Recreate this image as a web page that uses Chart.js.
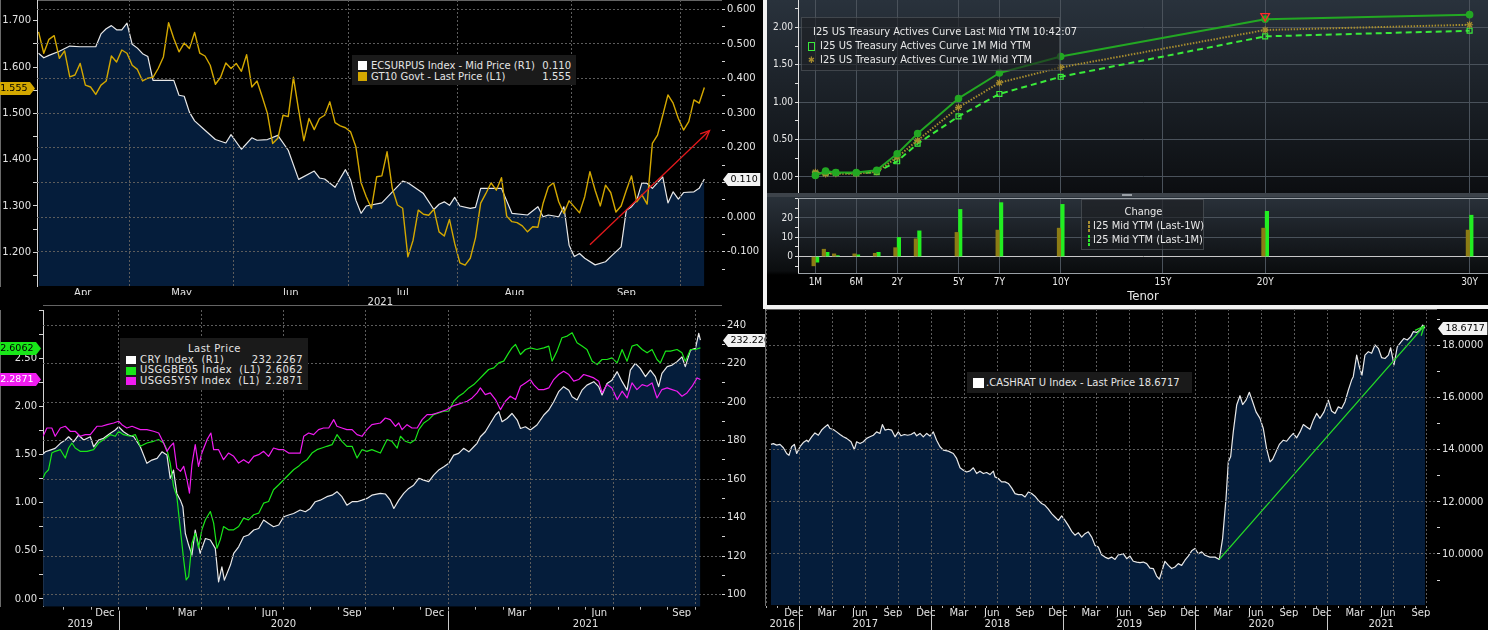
<!DOCTYPE html>
<html>
<head>
<meta charset="utf-8">
<title>Rates, inflation and cash ratio panels</title>
<script src="https://cdn.jsdelivr.net/npm/chart.js@4.4.1/dist/chart.umd.min.js"></script>
<style>
  html, body { margin: 0; padding: 0; background: #000; }
  body { position: relative; width: 1488px; height: 630px; overflow: hidden; font-family: "DejaVu Sans", sans-serif; }
  .pn { position: absolute; }
  .pn canvas { display: block; }
  .lg { position: absolute; box-sizing: border-box; background: #1a1a1a; color: #e4e4e4; font-size: 10px; }
  .row { display: flex; align-items: center; height: 11px; line-height: 11px; white-space: pre; }
  .sq { display: inline-block; width: 9px; height: 9px; margin-right: 4px; flex: none; }
  .val { margin-left: auto; }
  .nar { font-family: "Liberation Sans Narrow", "DejaVu Sans Condensed", Roboto, sans-serif; font-stretch: condensed; }
  .lg2 { background: rgba(28,30,33,0.6); border: 1px solid rgba(95,100,105,0.55); color: #e8e8e8; font-size: 11px; }
  .lg2 .row { height: 14px; line-height: 14px; }
  .lg3 { font-size: 10px; letter-spacing: 0.45px; }
  .lg3 .row { height: 10.7px; line-height: 10.7px; }
</style>
</head>
<body>

<div class="pn" style="left:0;top:305px;width:765px;height:325px"><canvas id="c3" width="765" height="325"></canvas></div>
<div class="pn" style="left:0;top:0;width:765px;height:310px"><canvas id="c1" width="765" height="310"></canvas></div>

<div class="pn" style="left:763px;top:0;width:725px;height:309px;background:#f2f2f2"></div>
<div class="pn" style="left:767px;top:0;width:721px;height:193px;background:linear-gradient(#29323c,#0c0e11)"><canvas id="c2a" width="721" height="193"></canvas></div>
<div class="pn" style="left:767px;top:193px;width:721px;height:112px;background:linear-gradient(#2b333c 0px,#0b0d0f 78px,#000 82px)"><canvas id="c2b" width="721" height="112"></canvas></div>
<div class="pn" style="left:767px;top:193px;width:721px;height:4px;background:#3d434a"></div>
<div class="pn" style="left:1122px;top:194px;width:10px;height:2px;background:#9aa0a6"></div>

<div class="pn" style="left:765px;top:309px;width:723px;height:321px"><canvas id="c4" width="723" height="321"></canvas></div>

<div class="lg" style="left:352px;top:55px;width:224px;height:30px;padding:5px 5px 0 6px">
  <div class="row"><span class="sq" style="background:#fff"></span>ECSURPUS Index - Mid Price (R1)<span class="val">0.110</span></div>
  <div class="row"><span class="sq" style="background:#d4a800"></span>GT10 Govt - Last Price (L1)<span class="val">1.555</span></div>
</div>

<div class="lg lg2 nar" style="left:801px;top:17px;width:259px;height:54px;padding:7px 4px 0 6px">
  <div class="row"><span style="display:inline-block;width:7px;height:7px;border-radius:50%;background:#23a823;margin-right:5px"></span>I25 US Treasury Actives Curve Last Mid YTM 10:42:07</div>
  <div class="row"><span style="display:inline-block;width:5px;height:7px;border:1px solid #3aea3a;margin-right:5px"></span>I25 US Treasury Actives Curve 1M Mid YTM</div>
  <div class="row"><span style="display:inline-block;width:7px;margin-right:5px;color:#a68c2e;font-size:9px">✱</span>I25 US Treasury Actives Curve 1W Mid YTM</div>
</div>

<div class="lg lg2 nar" style="left:1081px;top:199px;width:123px;height:51px;padding:5px 4px 0 6px">
  <div class="row" style="justify-content:center">Change</div>
  <div class="row"><span style="display:inline-block;width:6px;height:9px;border:1px dashed #a68c2e;margin-right:3px"></span>I25 Mid YTM (Last-1W)</div>
  <div class="row"><span style="display:inline-block;width:6px;height:9px;border:1px dashed #2ee82e;margin-right:3px"></span>I25 Mid YTM (Last-1M)</div>
</div>

<div class="lg lg3" style="left:120px;top:338px;width:188px;height:52px;padding:6px 5px 0 6px">
  <div class="row" style="justify-content:center">Last Price</div>
  <div class="row"><span class="sq" style="background:#fff;width:10px;height:8px"></span>CRY Index  (R1)<span class="val">232.2267</span></div>
  <div class="row"><span class="sq" style="background:#19e619;width:10px;height:8px"></span>USGGBE05 Index  (L1)<span class="val">2.6062</span></div>
  <div class="row"><span class="sq" style="background:#f01cf0;width:10px;height:8px"></span>USGG5Y5Y Index  (L1)<span class="val">2.2871</span></div>
</div>

<div class="lg" style="left:967px;top:372px;width:225px;height:21px;padding:0 0 0 6px;display:flex;align-items:center;white-space:pre">
  <span class="sq" style="background:#fff;width:11px;height:10px;margin-right:2px"></span>.CASHRAT U Index - Last Price 18.6717
</div>

<script>
// ---------- panel 1: ECSURPUS (R1) vs GT10 (L1), x = trading day index ----------
const gt10 = [
  1.676,1.630,1.660,1.668,1.619,1.635,1.579,1.583,1.608,1.561,
  1.557,1.541,1.561,1.570,1.624,1.611,1.637,1.630,1.604,1.595,
  1.570,1.576,1.578,1.597,1.622,1.696,1.662,1.633,1.652,1.640,
  1.675,1.630,1.624,1.604,1.563,1.578,1.609,1.597,1.608,1.591,
  1.627,1.557,1.570,1.536,1.500,1.435,1.446,1.496,1.493,1.578,
  1.507,1.441,1.489,1.465,1.489,1.496,1.525,1.480,1.473,1.469,
  1.460,1.428,1.350,1.320,1.295,1.363,1.365,1.417,1.338,1.302,
  1.295,1.190,1.226,1.291,1.282,1.280,1.293,1.244,1.235,1.271,
  1.219,1.177,1.172,1.187,1.231,1.306,1.327,1.350,1.334,1.361,
  1.278,1.266,1.264,1.257,1.244,1.255,1.254,1.306,1.341,1.350,
  1.309,1.284,1.311,1.298,1.285,1.320,1.374,1.334,1.300,1.345,
  1.329,1.287,1.300,1.334,1.365,1.309,1.324,1.304,1.435,1.453,
  1.496,1.540,1.522,1.489,1.464,1.482,1.529,1.522,1.556];
const ecsDay = [0,1,2,4,6,8,11,12,13,14,15,16,17,18,19,20,21,22,26,27,28,29,30,32,34,36,37,39,41,42,
  44,46,48,50,53,54,55,57,59,60,61,62,63,66,70,71,74,76,77,78,79,80,81,83,84,85,89,91,94,96,
  97,98,100,101,102,103,104,105,107,109,110,112,113,114,115,116,117,118,120,121,122,123,124,126,127,128];
const ecsVal = [0.473,0.460,0.467,0.479,0.494,0.492,0.492,0.529,0.544,0.553,0.541,0.541,0.560,0.499,0.488,
  0.472,0.464,0.395,0.395,0.352,0.349,0.303,0.278,0.251,0.224,0.214,0.238,0.196,0.229,0.222,
  0.224,0.236,0.193,0.109,0.133,0.113,0.110,0.086,0.137,0.107,0.049,0.011,0.032,0.041,
  0.104,0.099,0.068,0.022,0.037,0.044,0.034,0.057,0.032,0.025,0.028,0.083,0.083,0.011,0.006,0.030,
  0.001,0.006,0.001,0.030,-0.081,-0.114,-0.105,-0.119,-0.138,-0.129,-0.114,-0.086,0.020,0.030,
  0.049,0.099,0.097,0.083,0.116,0.041,0.073,0.052,0.071,0.073,0.083,0.110];
const redArrowDay = [106, 129];
const redArrowVal = [-0.08, 0.25];
const p1MonthStart = [17.5, 37.5, 59.5, 80.5, 102.5, 123.5];
const p1MonthMid = [8.5, 27.5, 48.5, 70, 91.5, 113];
const p1MonthLbl = ['Apr', 'May', 'Jun', 'Jul', 'Aug', 'Sep'];
const gtTicks = [1.15,1.2,1.25,1.3,1.35,1.4,1.45,1.5,1.55,1.6,1.65,1.7];
const ecsTicks = [-0.15,-0.1,-0.05,0,0.05,0.1,0.15,0.2,0.25,0.3,0.35,0.4,0.45,0.5,0.55,0.6];

// ---------- panel 2: I25 treasury curve and changes ----------
const tenorNames = ['1M','2M','3M','6M','1Y','2Y','3Y','5Y','7Y','10Y','20Y','30Y'];
const tenorPos = [-2,-1.5,-1,0,1,2,3,5,7,10,20,30];
const curveLast = [0.02,0.08,0.06,0.06,0.09,0.31,0.58,1.05,1.39,1.61,2.11,2.17];
const curve1W = [0.065,0.04,0.045,0.045,0.07,0.265,0.49,0.93,1.26,1.465,1.965,2.035];
const curve1M = [0.045,0.055,0.055,0.05,0.065,0.21,0.445,0.81,1.11,1.34,1.88,1.955];
const chg1W = [-4.8,3.8,1.4,1.4,1.7,4.6,9.2,12.5,13.7,14.7,14.7,13.7];
const chg1M = [-2.9,2.2,0.5,0.9,2.2,9.9,13.3,24.4,27.9,27.0,23.4,21.4];
const tenorTicks = [-2,0,2,5,7,10,15,20,30];
const tenorTickLbl = ['1M','6M','2Y','5Y','7Y','10Y','15Y','20Y','30Y'];
const curveTicks = [0,0.25,0.5,0.75,1,1.25,1.5,1.75,2,2.25];
const chgTicks = [-5,0,5,10,15,20,25,30];

// ---------- panel 3: CRY (R1), USGGBE05 / USGG5Y5Y (L1); x = months from Oct 2019 ----------
const cryM = [0.25,0.33,0.51,0.69,0.88,1.06,1.18,1.36,1.54,1.73,
  1.97,2.09,2.27,2.45,2.70,2.88,3.00,3.18,3.36,3.55,
  3.79,4.03,4.21,4.40,4.58,4.76,4.88,5.00,5.12,5.25,
  5.34,5.43,5.55,5.67,5.79,5.97,6.16,6.34,6.52,6.64,
  6.76,6.85,7.07,7.19,7.37,7.55,7.73,7.92,8.10,8.28,
  8.46,8.64,8.83,9.01,9.19,9.37,9.61,9.80,9.98,10.16,
  10.34,10.58,10.77,10.95,11.13,11.31,11.50,11.68,11.86,12.04,
  12.22,12.53,12.71,12.89,13.02,13.20,13.38,13.56,13.74,13.93,
  14.11,14.29,14.47,14.65,14.84,15.02,15.20,15.38,15.56,15.75,
  15.93,16.05,16.17,16.35,16.53,16.72,16.84,16.96,17.14,17.32,
  17.51,17.63,17.81,17.99,18.23,18.48,18.66,18.84,19.02,19.20,
  19.39,19.51,19.69,19.87,20.05,20.30,20.48,20.60,20.78,20.96,
  21.15,21.33,21.51,21.63,21.81,21.99,22.18,22.36,22.54,22.66,
  22.78,22.97,23.15,23.33,23.51,23.63,23.82,24.00,24.12,24.18];
const cryV = [173.0,174.2,175.1,176.0,178.6,180.3,182.0,179.4,182.9,180.3,
  182.0,176.8,180.3,181.2,183.8,185.5,187.2,184.6,182.9,182.0,
  176.8,168.2,169.9,170.8,174.2,172.5,160.4,164.7,152.6,149.1,
  145.7,131.8,125.8,120.6,133.6,121.5,129.2,128.4,124.1,106.7,
  114.5,107.6,115.4,121.5,124.9,130.1,131.0,133.6,134.4,138.8,
  137.0,135.3,136.2,140.5,141.4,142.2,144.0,143.1,144.8,148.3,
  149.1,150.9,151.7,153.5,150.9,146.5,148.3,148.3,149.1,150.0,
  151.7,152.6,152.3,149.1,144.8,149.1,152.6,155.2,156.9,160.4,
  159.5,158.7,162.1,164.7,166.4,168.2,172.5,173.4,176.0,174.2,
  176.8,178.6,182.0,184.6,188.9,193.3,195.0,189.8,191.5,194.1,
  190.7,186.3,187.2,185.5,188.1,193.3,195.9,200.2,205.4,208.0,
  206.2,202.8,201.1,206.2,208.8,210.6,208.0,203.7,209.7,211.4,
  215.8,210.6,206.2,216.6,220.1,217.5,213.2,216.6,213.2,208.0,
  214.9,218.4,219.2,221.0,223.5,218.4,227.0,227.9,235.7,232.2];
const beM = [0.25,0.33,0.45,0.57,0.69,0.88,1.06,1.18,1.30,1.42,
  1.60,1.85,2.09,2.27,2.45,2.70,2.88,3.00,3.18,3.42,
  3.61,3.79,4.03,4.27,4.46,4.64,4.76,4.88,5.00,5.12,
  5.25,5.37,5.46,5.55,5.67,5.79,5.91,6.03,6.16,6.34,
  6.46,6.58,6.70,6.82,7.00,7.19,7.37,7.55,7.73,7.92,
  8.10,8.28,8.46,8.64,8.83,9.01,9.19,9.37,9.55,9.67,
  9.86,10.04,10.22,10.40,10.58,10.77,10.95,11.13,11.31,11.50,
  11.68,11.86,12.04,12.22,12.53,12.77,12.95,13.14,13.26,13.44,
  13.62,13.80,13.93,14.11,14.29,14.47,14.65,14.84,15.02,15.20,
  15.38,15.56,15.75,15.93,16.11,16.29,16.47,16.66,16.84,17.02,
  17.20,17.32,17.45,17.63,17.81,17.99,18.23,18.48,18.66,18.78,
  18.96,19.14,19.33,19.51,19.69,19.87,20.05,20.24,20.42,20.60,
  20.78,20.96,21.15,21.33,21.51,21.69,21.87,22.06,22.24,22.42,
  22.60,22.72,22.91,23.09,23.33,23.51,23.63,23.82,24.00,24.18];
const beV = [1.255,1.307,1.342,1.515,1.533,1.550,1.463,1.567,1.619,1.567,
  1.533,1.533,1.550,1.619,1.654,1.706,1.689,1.741,1.706,1.689,
  1.706,1.585,1.619,1.637,1.654,1.619,1.550,1.411,1.169,1.065,
  0.718,0.406,0.198,0.232,0.579,0.683,0.527,0.718,0.822,0.908,
  0.787,0.527,0.614,0.752,0.718,0.718,0.752,0.839,0.822,0.874,
  0.891,0.995,1.012,1.134,1.186,1.238,1.290,1.342,1.377,1.411,
  1.446,1.515,1.550,1.567,1.585,1.602,1.706,1.637,1.585,1.585,
  1.463,1.550,1.533,1.550,1.515,1.654,1.637,1.567,1.689,1.637,
  1.619,1.654,1.758,1.827,1.862,1.914,1.931,1.949,1.949,2.053,
  2.105,2.139,2.191,2.226,2.278,2.330,2.382,2.399,2.451,2.469,
  2.555,2.607,2.642,2.538,2.590,2.607,2.590,2.607,2.625,2.469,
  2.573,2.712,2.729,2.764,2.659,2.625,2.590,2.469,2.434,2.486,
  2.486,2.503,2.451,2.590,2.469,2.625,2.642,2.590,2.555,2.590,
  2.486,2.451,2.573,2.573,2.590,2.555,2.469,2.590,2.590,2.607];
const fyM = [0.25,0.39,0.57,0.69,0.88,1.06,1.24,1.42,1.60,1.79,
  1.97,2.21,2.39,2.58,2.82,3.00,3.12,3.30,3.49,3.79,
  4.03,4.27,4.46,4.64,4.76,4.88,5.00,5.12,5.25,5.37,
  5.49,5.58,5.67,5.79,5.91,6.03,6.22,6.36,6.46,6.64,
  6.82,7.00,7.19,7.37,7.55,7.73,7.92,8.10,8.28,8.46,
  8.64,8.83,9.01,9.19,9.37,9.61,9.74,9.92,10.10,10.28,
  10.46,10.65,10.83,10.95,11.13,11.31,11.50,11.68,11.86,12.04,
  12.22,12.53,12.71,12.89,13.08,13.20,13.32,13.50,13.68,13.87,
  14.05,14.23,14.41,14.59,14.78,14.96,15.14,15.32,15.50,15.69,
  15.87,16.05,16.17,16.35,16.53,16.72,16.90,17.08,17.26,17.45,
  17.63,17.81,17.99,18.11,18.29,18.48,18.66,18.84,19.02,19.20,
  19.39,19.57,19.75,19.93,20.12,20.30,20.48,20.60,20.78,20.96,
  21.15,21.33,21.51,21.69,21.87,22.06,22.24,22.42,22.60,22.78,
  22.97,23.15,23.33,23.51,23.69,23.88,24.06,24.18];
const fyV = [1.689,1.775,1.775,1.689,1.775,1.793,1.741,1.741,1.689,1.706,
  1.706,1.793,1.793,1.810,1.827,1.845,1.810,1.775,1.793,1.758,
  1.758,1.741,1.723,1.619,1.533,1.585,1.619,1.359,1.325,1.377,
  1.238,1.099,1.394,1.602,1.377,1.515,1.654,1.723,1.550,1.550,
  1.446,1.515,1.481,1.411,1.446,1.411,1.481,1.498,1.533,1.481,
  1.567,1.550,1.550,1.515,1.515,1.515,1.689,1.723,1.706,1.758,
  1.775,1.775,1.862,1.793,1.775,1.758,1.758,1.706,1.689,1.758,
  1.810,1.827,1.879,1.862,1.793,1.827,1.758,1.810,1.775,1.775,
  1.862,1.914,1.914,1.931,1.949,1.966,2.001,2.018,2.035,2.053,
  2.087,2.139,2.191,2.122,2.139,2.070,1.966,2.053,2.105,2.070,
  2.209,2.243,2.278,2.226,2.174,2.174,2.191,2.278,2.330,2.365,
  2.330,2.261,2.278,2.330,2.313,2.295,2.261,2.139,2.226,2.191,
  2.070,2.157,2.087,2.243,2.174,2.226,2.209,2.243,2.087,2.174,
  2.191,2.174,2.157,2.105,2.139,2.209,2.295,2.278];
const p3MonthMid = [2.5,5.5,8.5,11.5,14.5,17.5,20.5,23.5];
const p3MonthLbl = ['Dec','Mar','Jun','Sep','Dec','Mar','Jun','Sep'];
const p3YearMid = [1.6, 9, 20];
const p3YearLbl = ['2019','2020','2021'];
const p3YearStart = [3, 15];
const p3LTicks = [0,0.25,0.5,0.75,1,1.25,1.5,1.75,2,2.25,2.5,2.75,3];
const p3RTicks = [100,110,120,130,140,150,160,170,180,190,200,210,220,230,240];

// ---------- panel 4: .CASHRAT U Index; x = months from Jan 2017 ----------
const cashM = [-2.58,-2.36,-2.06,-1.76,-1.45,-1.15,-0.94,-0.70,-0.45,-0.24,
  0.06,0.36,0.67,0.82,1.12,1.42,1.73,2.03,2.33,2.58,
  2.79,3.09,3.39,3.70,4.00,4.30,4.70,5.00,5.21,5.52,
  5.82,6.12,6.42,6.73,7.03,7.33,7.55,7.79,8.09,8.39,
  8.70,9.00,9.24,9.55,9.85,10.15,10.45,10.67,10.97,11.27,
  11.58,11.88,12.18,12.48,12.79,13.09,13.55,14.00,14.30,14.61,
  14.91,15.21,15.52,15.82,16.12,16.42,16.73,17.03,17.33,17.64,
  17.79,18.09,18.39,18.70,19.00,19.30,19.61,19.91,20.21,20.52,
  20.82,21.12,21.42,21.73,22.03,22.33,22.64,22.94,23.24,23.55,
  23.85,24.15,24.45,24.76,25.06,25.36,25.67,25.97,26.27,26.58,
  26.88,27.18,27.48,27.79,28.09,28.39,28.70,29.00,
  29.15,29.45,29.76,30.06,30.36,30.67,30.97,31.27,31.58,31.88,
  32.18,32.48,32.73,32.94,33.24,33.55,33.85,34.15,34.45,34.76,
  35.06,35.36,35.67,35.97,36.27,36.58,36.88,37.33,37.79,38.18,
  38.48,38.79,39.00,39.21,39.45,39.76,40.06,40.30,40.61,40.91,
  41.21,41.52,41.88,42.18,42.48,42.79,43.03,43.33,43.64,44.00,
  44.30,44.61,44.91,45.21,45.52,45.82,46.12,46.42,46.73,47.03,
  47.33,47.70,48.09,48.39,48.70,49.00,49.30,49.61,49.91,50.21,
  50.36,50.67,50.91,51.15,51.42,51.73,52.03,52.33,52.64,52.94,
  53.24,53.55,53.76,54.06,54.36,54.67,54.97,55.27,55.58,55.82,
  56.12,56.42,56.67,56.88];
const cashV = [14.21,14.24,14.18,14.21,14.08,13.86,13.79,14.12,14.21,13.86,
  14.12,14.28,14.37,14.31,14.50,14.65,14.56,14.76,14.88,14.97,
  14.82,14.78,14.69,14.59,14.50,14.44,14.31,14.01,14.31,14.24,
  14.31,14.44,14.50,14.56,14.69,14.63,14.97,14.76,14.79,14.76,
  14.50,14.69,14.54,14.59,14.56,14.59,14.67,14.54,14.63,14.50,
  14.63,14.53,14.69,14.37,14.12,13.99,13.95,13.86,13.67,13.31,
  13.22,13.15,13.19,13.31,13.09,13.18,13.09,13.13,13.05,13.18,
  12.96,12.90,12.77,12.77,12.71,12.54,12.32,12.28,12.28,12.19,
  12.38,12.32,12.22,12.06,11.94,11.87,11.72,11.55,11.42,11.29,
  11.46,11.29,11.10,10.87,10.72,10.82,10.65,10.78,10.85,10.65,
  10.33,10.27,9.97,9.88,9.82,9.88,9.79,9.97,
  9.97,10.01,9.82,9.92,9.72,9.69,9.67,9.69,9.63,9.46,
  9.44,9.15,9.03,9.31,9.72,9.56,9.44,9.50,9.63,9.56,
  9.76,9.92,10.12,10.21,10.01,10.08,9.95,9.88,9.88,9.79,
  10.59,12.13,13.54,13.73,14.69,15.72,16.08,15.74,15.91,16.21,
  15.85,15.46,15.21,14.82,14.05,13.54,13.64,13.92,14.21,14.37,
  14.33,14.50,14.63,14.46,14.69,14.97,14.88,14.79,15.14,15.40,
  15.21,15.46,15.91,15.49,15.40,15.65,15.59,15.85,16.29,16.68,
  16.81,17.64,17.19,16.87,17.64,17.77,17.71,18.03,17.90,17.54,
  17.51,17.64,17.92,17.26,17.96,18.13,18.28,18.22,18.35,18.54,
  18.51,18.60,18.79,18.67];
const greenArrowM = [38.18, 56.8];
const greenArrowV = [9.79, 18.75];
const p4MonthMid = [-0.5,2.5,5.5,8.5,11.5,14.5,17.5,20.5,23.5,26.5,29.5,32.5,35.5,38.5,41.5,44.5,47.5,50.5,53.5,56.5];
const p4MonthLbl = ['Dec','Mar','Jun','Sep','Dec','Mar','Jun','Sep','Dec','Mar','Jun','Sep','Dec','Mar','Jun','Sep','Dec','Mar','Jun','Sep'];
const p4YearMid = [-1.56, 6, 18, 30, 42, 52.9];
const p4YearLbl = ['2016','2017','2018','2019','2020','2021'];
const p4YearStart = [0, 12, 24, 36, 48];
const p4Ticks = [9,10,11,12,13,14,15,16,17,18,19];

// ---------- helpers ----------
const FONT = '"DejaVu Sans", sans-serif';
const NARROW = '"Liberation Sans Narrow", "DejaVu Sans Condensed", Roboto, sans-serif';
const TXT = '#e2e2e2', GRID = '#5c5c5c', AXIS = '#d4d4d4', NAVY = '#051d3b', P2GRID = '#4a525b';

const pts = (xs, ys) => xs.map((x, i) => ({ x, y: ys[i] }));
const on = (v, s) => Math.abs(v / s - Math.round(v / s)) < 1e-6;
const range = (a, b, s) => { const r = []; for (let v = a; v <= b + 1e-9; v += s) r.push(v); return r; };
const fixed = list => ax => { ax.ticks = list.map(v => ({ value: v })); };
const fitTo = (w, h) => s => {
  if (w !== null) s.width = w;
  if (h !== null) s.height = h;
  s.paddingLeft = 0; s.paddingRight = 0; s.paddingTop = 0; s.paddingBottom = 0;
};

function gridX(min, max, at, major, tickLen) {
  return {
    type: 'linear', position: 'bottom', weight: 0, min, max, z: 1,
    afterBuildTicks: fixed(at), afterFit: fitTo(null, 0),
    grid: { z: 1, color: c => (c.tick && major(c.tick.value)) ? GRID : 'transparent',
            drawTicks: tickLen > 0, tickLength: tickLen, tickColor: '#b8b8b8' },
    border: { display: true, color: '#c8c8c8', dash: [2, 2] },
    ticks: { display: false }
  };
}
function labelRow(min, max, at, text, h, pad, weight, font) {
  return {
    type: 'linear', position: 'bottom', weight, min, max,
    afterBuildTicks: fixed(at), afterFit: fitTo(null, h),
    grid: { display: false, drawTicks: false }, border: { display: false },
    ticks: { autoSkip: false, maxRotation: 0, minRotation: 0, padding: pad, color: TXT,
             font: font || { family: FONT, size: 10 }, callback: (v, i) => text[i] }
  };
}
function yAxis(pos, min, max, at, w, major, fmt, onArea, lastLbl) {
  return {
    type: 'linear', position: pos, min, max, z: onArea ? 1 : 0,
    afterBuildTicks: fixed(at), afterFit: fitTo(w, null),
    grid: { z: onArea ? 1 : -1, drawOnChartArea: onArea,
            color: c => (c.tick && on(c.tick.value, major)) ? GRID : 'transparent',
            tickLength: 4, tickColor: AXIS },
    border: { color: AXIS, dash: [2, 2] },
    ticks: { autoSkip: false, padding: 2, color: TXT, font: { family: FONT, size: 10 },
             callback: v => (on(v, major) && (lastLbl === undefined || v <= lastLbl)) ? fmt(v) : '' }
  };
}
function options(padTop, scales) {
  return {
    responsive: false, animation: false, events: [],
    layout: { padding: { top: padTop, left: 0, right: 0, bottom: 0 }, autoPadding: false },
    elements: { point: { radius: 0 }, line: { tension: 0, borderJoinStyle: 'round' } },
    plugins: { legend: { display: false }, tooltip: { enabled: false } },
    scales
  };
}

// value tags drawn against an axis
function tags(items) {
  return {
    id: 'tags',
    afterDraw(chart) {
      const ctx = chart.ctx;
      items.forEach(t => {
        const sc = chart.scales[t.axis];
        const y = Math.round(sc.getPixelForValue(t.value)) + 0.5;
        ctx.save();
        ctx.font = '9.5px ' + FONT;
        const w = ctx.measureText(t.text).width + 5, h = 13, tip = 5;
        const left = sc.position === 'left';
        const x0 = left ? sc.right - 2 : sc.left + 2;
        const d = left ? -1 : 1;
        ctx.beginPath();
        ctx.moveTo(x0, y);
        ctx.lineTo(x0 + d * tip, y - h / 2);
        ctx.lineTo(x0 + d * (tip + w), y - h / 2);
        ctx.lineTo(x0 + d * (tip + w), y + h / 2);
        ctx.lineTo(x0 + d * tip, y + h / 2);
        ctx.closePath();
        ctx.fillStyle = t.bg;
        ctx.fill();
        ctx.fillStyle = t.fg;
        ctx.textBaseline = 'middle';
        ctx.textAlign = 'center';
        ctx.fillText(t.text, x0 + d * (tip + w / 2), y + 0.5);
        ctx.restore();
      });
    }
  };
}
// open arrow head at the last point of datasets flagged arrowHead
const arrowHeads = {
  id: 'arrowHeads',
  afterDatasetsDraw(chart) {
    const ctx = chart.ctx;
    chart.data.datasets.forEach((ds, i) => {
      if (!ds.arrowHead) return;
      const el = chart.getDatasetMeta(i).data;
      const a = el[el.length - 2], b = el[el.length - 1];
      const ang = Math.atan2(b.y - a.y, b.x - a.x), L = 10;
      ctx.save();
      ctx.strokeStyle = ds.borderColor;
      ctx.lineWidth = ds.borderWidth;
      ctx.beginPath();
      ctx.moveTo(b.x - L * Math.cos(ang - 0.42), b.y - L * Math.sin(ang - 0.42));
      ctx.lineTo(b.x, b.y);
      ctx.lineTo(b.x - L * Math.cos(ang + 0.42), b.y - L * Math.sin(ang + 0.42));
      ctx.stroke();
      ctx.restore();
    });
  }
};
function yearSeps(values, from) {
  return {
    id: 'yearSeps',
    afterDraw(chart) {
      const ctx = chart.ctx, sc = chart.scales.x;
      ctx.save();
      ctx.strokeStyle = '#c8c8c8';
      ctx.lineWidth = 1;
      values.forEach(v => {
        const x = Math.round(sc.getPixelForValue(v)) + 0.5;
        ctx.beginPath();
        ctx.moveTo(x, chart.chartArea.bottom + from);
        ctx.lineTo(x, chart.height);
        ctx.stroke();
      });
      ctx.restore();
    }
  };
}
function frame(color) {
  return {
    id: 'frame',
    afterDraw(chart) {
      const { left, top, right, bottom } = chart.chartArea, ctx = chart.ctx;
      ctx.save();
      ctx.strokeStyle = color;
      ctx.lineWidth = 1;
      ctx.beginPath();
      ctx.moveTo(left, Math.round(top) + 0.5); ctx.lineTo(right, Math.round(top) + 0.5);
      ctx.moveTo(left, Math.round(bottom) + 0.5); ctx.lineTo(right, Math.round(bottom) + 0.5);
      ctx.stroke();
      ctx.restore();
    }
  };
}

// ---------- panel 1 ----------
new Chart(document.getElementById('c1'), {
  type: 'line',
  data: { datasets: [
    { data: pts(redArrowDay, redArrowVal), yAxisID: 'yR', borderColor: '#e3191c', borderWidth: 1.3, arrowHead: true, order: 0 },
    { data: gt10.map((v, i) => ({ x: i, y: v })), yAxisID: 'yL', borderColor: '#d4a800', borderWidth: 1.4, order: 1 },
    { data: pts(ecsDay, ecsVal), yAxisID: 'yR', borderColor: '#e8e8e8', borderWidth: 1.2, fill: 'start', backgroundColor: NAVY, order: 2 }
  ] },
  options: options(0, {
    x: gridX(-0.3, 131.2, p1MonthStart, () => true, 0),
    xm: labelRow(-0.3, 131.2, p1MonthMid, p1MonthLbl, 9, 1, 1),
    xy: labelRow(-0.3, 131.2, [65.7], ['2021'], 15, 1, 2),
    yL: yAxis('left', 1.127, 1.745, gtTicks, 37, 0.1, v => v.toFixed(3), false),
    yR: yAxis('right', -0.199, 0.627, ecsTicks, 44, 0.1, v => v.toFixed(3), true)
  }),
  plugins: [arrowHeads, tags([
    { axis: 'yL', value: 1.555, text: '1.555', bg: '#d4a800', fg: '#000' },
    { axis: 'yR', value: 0.110, text: '0.110', bg: '#f2f2f2', fg: '#000' }
  ])]
});

// ---------- panel 2: curve ----------
new Chart(document.getElementById('c2a'), {
  type: 'line',
  data: { datasets: [
    { data: pts([20], [2.15]), showLine: false, pointStyle: 'triangle', rotation: 180, pointRadius: 5,
      pointBorderColor: '#ff2a2a', pointBackgroundColor: 'rgba(0,0,0,0)', pointBorderWidth: 1.3, order: 0 },
    { data: pts(tenorPos, curveLast), borderColor: '#23a823', borderWidth: 2, pointStyle: 'circle', pointRadius: 2.8,
      pointBackgroundColor: '#23a823', pointBorderColor: '#23a823', order: 1 },
    { data: pts(tenorPos, curve1W), borderColor: '#a68c2e', borderWidth: 2, borderDash: [1.5, 1.5], pointStyle: 'star',
      pointRadius: 3.5, pointBorderColor: '#a68c2e', pointBorderWidth: 1.2, order: 2 },
    { data: pts(tenorPos, curve1M), borderColor: '#3aea3a', borderWidth: 2, borderDash: [6, 4], pointStyle: 'rect',
      pointRadius: 3.5, pointBackgroundColor: 'rgba(0,0,0,0)', pointBorderColor: '#3aea3a', pointBorderWidth: 1.2, order: 3 }
  ] },
  options: options(0, {
    x: { type: 'linear', min: -2.85, max: 30.9, afterBuildTicks: fixed(tenorTicks), afterFit: fitTo(null, 0),
         grid: { color: P2GRID, drawTicks: false }, border: { display: false }, ticks: { display: false } },
    y: { type: 'linear', position: 'left', min: -0.214, max: 2.366, afterBuildTicks: fixed(curveTicks), afterFit: fitTo(31, null),
         grid: { color: c => (c.tick && on(c.tick.value, 0.5)) ? P2GRID : 'transparent', tickLength: 3, tickColor: '#e0e0e0' },
         border: { color: '#e0e0e0' },
         ticks: { autoSkip: false, padding: 2, color: '#e8e8e8', font: { family: NARROW, size: 10 },
                  callback: v => on(v, 0.5) ? v.toFixed(2) : '' } }
  })
});

// ---------- panel 2: change bars ----------
new Chart(document.getElementById('c2b'), {
  type: 'bar',
  data: { datasets: [
    { data: pts(tenorPos, chg1W), backgroundColor: '#8c7c14', barThickness: 3.5 },
    { data: pts(tenorPos, chg1M), backgroundColor: '#22ee22', barThickness: 3.5 }
  ] },
  options: options(5, {
    x: { type: 'linear', min: -2.85, max: 30.9, offset: false, afterBuildTicks: fixed(tenorTicks), afterFit: fitTo(null, 32),
         grid: { color: P2GRID, offset: false, drawTicks: false }, border: { display: false },
         ticks: { autoSkip: false, maxRotation: 0, padding: 3, color: '#e8e8e8', font: { family: NARROW, size: 10 },
                  callback: (v, i) => tenorTickLbl[i] },
         title: { display: true, text: 'Tenor', color: '#e8e8e8', font: { family: NARROW, size: 13 }, padding: { top: 0, bottom: 1 } } },
    y: { type: 'linear', position: 'left', min: -8.5, max: 30.3, afterBuildTicks: fixed(chgTicks), afterFit: fitTo(31, null),
         grid: { color: c => !c.tick ? 'transparent' : (c.tick.value === 0 ? '#c8c8c8' : ((c.tick.value === 10 || c.tick.value === 20) ? P2GRID : 'transparent')),
                 tickLength: 3, tickColor: '#e0e0e0' },
         border: { color: '#e0e0e0' },
         ticks: { autoSkip: false, padding: 2, color: '#e8e8e8', font: { family: NARROW, size: 10 },
                  callback: v => (v === 0 || v === 10 || v === 20) ? String(v) : '' } }
  }),
  plugins: [frame('#9aa0a6')]
});

// ---------- panel 3 ----------
new Chart(document.getElementById('c3'), {
  type: 'line',
  data: { datasets: [
    { data: pts(fyM, fyV), yAxisID: 'yL', borderColor: '#f01cf0', borderWidth: 1.2, order: 0 },
    { data: pts(beM, beV), yAxisID: 'yL', borderColor: '#19e619', borderWidth: 1.2, order: 1 },
    { data: pts(cryM, cryV), yAxisID: 'yR', borderColor: '#e8e8e8', borderWidth: 1.2, fill: 'start', backgroundColor: NAVY, order: 2 }
  ] },
  options: options(5, {
    x: gridX(0.248, 24.93, range(1, 24, 1), v => on(v, 3), 3),
    xm: labelRow(0.248, 24.93, p3MonthMid, p3MonthLbl, 10.3, 1, 1),
    xy: labelRow(0.248, 24.93, p3YearMid, p3YearLbl, 13, 1, 2),
    yL: yAxis('left', -0.08, 3.0, p3LTicks, 43, 0.5, v => v.toFixed(2), false, 2.5),
    yR: yAxis('right', 93.8, 247.8, p3RTicks, 44, 20, v => String(v), true)
  }),
  plugins: [yearSeps(p3YearStart, 4), tags([
    { axis: 'yL', value: 2.6062, text: '2.6062', bg: '#19e619', fg: '#000' },
    { axis: 'yL', value: 2.2871, text: '2.2871', bg: '#f01cf0', fg: '#fff' },
    { axis: 'yR', value: 232.2267, text: '232.2267', bg: '#f2f2f2', fg: '#000' }
  ])]
});

// ---------- panel 4 ----------
new Chart(document.getElementById('c4'), {
  type: 'line',
  data: { datasets: [
    { data: pts(greenArrowM, greenArrowV), yAxisID: 'yR', borderColor: '#25dd25', borderWidth: 1.3, arrowHead: true, order: 0 },
    { data: pts(cashM, cashV), yAxisID: 'yR', borderColor: '#e8e8e8', borderWidth: 1.2, fill: 'start', backgroundColor: NAVY, order: 1 }
  ] },
  options: options(0, {
    x: gridX(-3.12, 57.88, range(-3, 57, 1), v => on(v, 3), 3),
    xm: labelRow(-3.12, 57.88, p4MonthMid, p4MonthLbl, 12.3, 2.3, 1),
    xy: labelRow(-3.12, 57.88, p4YearMid, p4YearLbl, 12.7, 1, 2),
    yR: yAxis('right', 8.04, 19.41, p4Ticks, 52, 2, v => v.toFixed(4), true)
  }),
  plugins: [arrowHeads, yearSeps(p4YearStart, 3), tags([
    { axis: 'yR', value: 18.6717, text: '18.6717', bg: '#f2f2f2', fg: '#000' }
  ])]
});
</script>
</body>
</html>
